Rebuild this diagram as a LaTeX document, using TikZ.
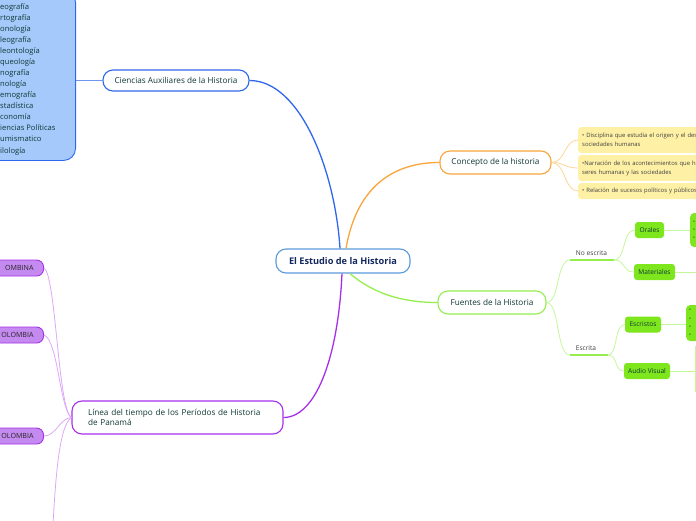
\documentclass[tikz,border=0pt]{standalone}
\usepackage{fontspec}
\setmainfont{Open Sans}
\definecolor{ink}{HTML}{0F3835}
\definecolor{azulraiz}{HTML}{5A9BDC}
\definecolor{azul}{HTML}{2F67EC}
\definecolor{azulcaja}{HTML}{A6C9FB}
\definecolor{naranja}{HTML}{F8A53A}
\definecolor{naranjaclaro}{HTML}{FDD597}
\definecolor{amarillo}{HTML}{FEF1A6}
\definecolor{verde}{HTML}{95EE4E}
\definecolor{verdeclaro}{HTML}{C4F79A}
\definecolor{verdecaja}{HTML}{7DE61C}
\definecolor{morado}{HTML}{A630EA}
\definecolor{moradoclaro}{HTML}{DDA8F7}
\definecolor{moradocaja}{HTML}{C48AF0}
\tikzset{
  tema/.style={draw, fill=white, rounded corners=10pt, line width=1.1pt, text=ink,
    font=\fontsize{8.2}{10.5}\selectfont, minimum height=23pt, inner sep=0pt},
  hoja/.style={fill=amarillo, rounded corners=3pt, anchor=west, align=left, text=black!75,
    font=\fontsize{5.9}{9}\selectfont, inner xsep=4pt, text width=160pt},
  caja/.style={fill=verdecaja, rounded corners=3pt, text=ink,
    font=\fontsize{6.6}{7}\selectfont, minimum height=16pt, inner sep=0pt},
  detalle/.style={fill=verdecaja, rounded corners=4pt, anchor=west, align=left, text=ink,
    font=\fontsize{5}{8}\selectfont, inner xsep=3pt, text width=20pt},
  periodo/.style={draw=morado, fill=moradocaja, line width=0.9pt, rounded corners=7pt,
    anchor=east, align=right, text width=60pt, inner xsep=10pt, minimum height=16pt,
    text=black!85, font=\fontsize{7.1}{8}\selectfont},
  rama/.style={line width=1.3pt},
  ramita/.style={line width=0.8pt}
}
\begin{document}
\begin{tikzpicture}[x=1pt,y=-1pt]
\useasboundingbox (0,0) rectangle (696,520);
\clip (0,0) rectangle (696,520);

\node[tema, draw=azulraiz, text=azul!40!black, font=\fontsize{9.2}{11}\selectfont\bfseries,
  minimum width=134pt, minimum height=24pt] (raiz) at (343,261) {El Estudio de la Historia};

\node[tema, draw=azul, minimum width=146pt, minimum height=21pt] (ciencias) at (176,80.5) {Ciencias Auxiliares de la Historia};
\node[draw=azul, fill=azulcaja, line width=0.9pt, rounded corners=12pt, minimum width=110pt,
  minimum height=170pt, anchor=north east] (auxcaja) at (76,-10) {};
\node[anchor=north west, align=left, inner sep=0pt, text=ink, font=\fontsize{7.6}{11.08}\selectfont] (auxlista) at (0,3)
  {eografía\\rtografía\\onología\\leografía\\leontología\\queología\\nografía\\nología\\emografía\\stadística\\conomía\\iencias Políticas\\umismatico\\ilología};
\draw[azul!70, ramita] (ciencias.west) -- (ciencias.west -| auxcaja.east);

\node[tema, draw=naranja, minimum width=111pt] (concepto) at (495.5,162.5) {Concepto de la historia};
\node[hoja, minimum height=26pt] (def1) at (578,140) {• Disciplina que estudia el origen y el des\\sociedades humanas};
\node[hoja, minimum height=26pt] (def2) at (578,168) {•Narración de los acontecimientos que h\\seres humanas y las sociedades};
\node[hoja, minimum height=16pt] (def3) at (578,191) {• Relación de sucesos políticos y públicos};
\foreach \d in {def1,def2,def3}
  \draw[naranjaclaro, ramita] (concepto.east) .. controls +(14,0) and +(-14,0) .. (\d.west);

\node[tema, draw=verde, minimum width=108pt] (fuentes) at (492,302.5) {Fuentes de la Historia};
\node[text=black!75, font=\fontsize{6.6}{7}\selectfont, inner sep=0pt] (noescrita) at (591.5,253) {No escrita};
\coordinate (ne-a) at (570,260);
\coordinate (ne-b) at (614,260);
\node[text=black!75, font=\fontsize{6.6}{7}\selectfont, inner sep=0pt] (escrita) at (586,348) {Escrita};
\coordinate (es-a) at (570,355);
\coordinate (es-b) at (608,355);
\draw[verde, line width=1.3pt] (ne-a) -- (ne-b);
\draw[verde, line width=1.3pt] (es-a) -- (es-b);
\draw[verdeclaro, ramita] (fuentes.east) .. controls (560,302) and (556,260) .. (ne-a);
\draw[verdeclaro, ramita] (fuentes.east) .. controls (560,303) and (556,355) .. (es-a);

\node[caja, minimum width=29pt] (orales) at (649.5,230) {Orales};
\node[caja, minimum width=41pt] (materiales) at (654.5,272) {Materiales};
\node[caja, minimum width=36pt] (escritos) at (643,324.5) {Escristos};
\node[caja, minimum width=46pt] (audio) at (647,371) {Audio Visual};
\draw[verdeclaro, ramita] (ne-b) .. controls (626,260) and (622,230) .. (orales.west);
\draw[verdeclaro, ramita] (ne-b) .. controls (626,260) and (622,272) .. (materiales.west);
\draw[verdeclaro, ramita] (es-b) .. controls (618,355) and (614,324.5) .. (escritos.west);
\draw[verdeclaro, ramita] (es-b) .. controls (618,355) and (614,371) .. (audio.west);

\node[detalle, minimum height=34pt] (oralesdet) at (690,230) {•\\•\\•};
\node[detalle, minimum height=36pt, font=\fontsize{5}{8.2}\selectfont] (escritosdet) at (686,323) {•\\•\\•\\•};
\coordinate (matfin) at (697,272);
\coordinate (audiofin) at (695.5,371);
\draw[verdeclaro, ramita] (orales.east) -- (orales.east -| oralesdet.west);
\draw[verdeclaro, ramita] (materiales.east) -- (matfin);
\draw[verdeclaro, ramita] (escritos.east) -- (escritos.east -| escritosdet.west);
\draw[verdeclaro, ramita] (audio.east) -- (audiofin);
\draw[verdeclaro, ramita] (695.5,346) -- (695.5,392);

\node[tema, draw=morado, align=left, minimum width=211pt, minimum height=33pt, text width=179pt]
  (linea) at (177.5,417.5) {Línea del tiempo de los Períodos de Historia\\de Panamá};
\node[periodo] (per1) at (44,268) {OMBINA};
\node[periodo] (per2) at (44,335) {OLOMBIA};
\node[periodo] (per3) at (44,436) {OLOMBIA};
\coordinate (abajo) at (53,524);
\draw[moradoclaro, ramita] (linea.west) .. controls (58,410) and (56,275) .. (per1.east);
\draw[moradoclaro, ramita] (linea.west) .. controls (60,410) and (58,340) .. (per2.east);
\draw[moradoclaro, ramita] (linea.west) .. controls (60,418) and (56,436) .. (per3.east);
\draw[moradoclaro, ramita] (linea.west) .. controls (60,425) and (56,470) .. (abajo);

\draw[azul, rama] (raiz.north) ++(-3,0) .. controls (335,170) and (300,80.5) .. (ciencias.east);
\draw[naranja, rama] (raiz.north) ++(3,0) .. controls (356,190) and (390,162.5) .. (concepto.west);
\draw[verde, rama] (raiz.south) ++(7,0) .. controls (375,295) and (405,302.5) .. (fuentes.west);
\draw[morado, rama] (raiz.south) ++(-1,0) .. controls (338,360) and (315,417.5) .. (linea.east);
\end{tikzpicture}
\end{document}
